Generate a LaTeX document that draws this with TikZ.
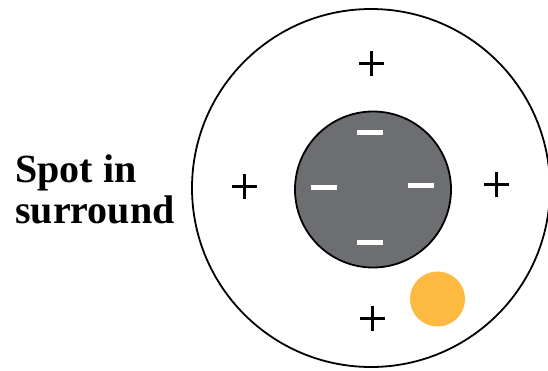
\documentclass[tikz,border=0pt]{standalone}
\usepackage{fontspec}
\setmainfont{Liberation Serif}
\definecolor{spotgray}{HTML}{6D6E71}
\definecolor{spotorange}{HTML}{FDB940}
\tikzset{
  plussign/.style={line width=3pt, black},
  minussign/.style={fill=white, draw=none},
  ring/.style={draw=black, line width=1.8pt},
  label/.style={font=\fontsize{40}{41}\selectfont\bfseries, inner sep=0pt, anchor=base west}
}
\begin{document}
\begin{tikzpicture}[x=1pt,y=-1pt]
\useasboundingbox (0,0) rectangle (548,370);
\begin{scope}
\clip (0,0) rectangle (548,370);
\node[ring, circle, minimum size=358pt, inner sep=0pt, fill=white] (outer) at (371,188) {};
\end{scope}
\node[ring, circle, minimum size=156pt, inner sep=0pt, fill=spotgray] (inner) at (373,189.5) {};
\node[circle, fill=spotorange, minimum size=55pt, inner sep=0pt] (spot) at (437.5,299) {};
% minus signs
\foreach \n/\x/\y in {mt/370/132, ml/324/187, mr/421/185.5, mb/370/242}{
  \node[minussign, minimum width=26pt, minimum height=5pt, inner sep=0pt] (\n) at (\x,\y) {};
}
% plus signs
\foreach \n/\x/\y in {pt/371.5/63, pl/244.5/186, pr/496.5/184.5, pb/372.5/318}{
  \coordinate (\n) at (\x,\y);
  \draw[plussign] ([xshift=-12.5pt]\n) -- ([xshift=12.5pt]\n);
  \draw[plussign] ([yshift=-12.5pt]\n) -- ([yshift=12.5pt]\n);
}
\node[label] (l1) at (15,182) {Spot in};
\node[label] (l2) at (15,223) {surround};
\end{tikzpicture}
\end{document}
